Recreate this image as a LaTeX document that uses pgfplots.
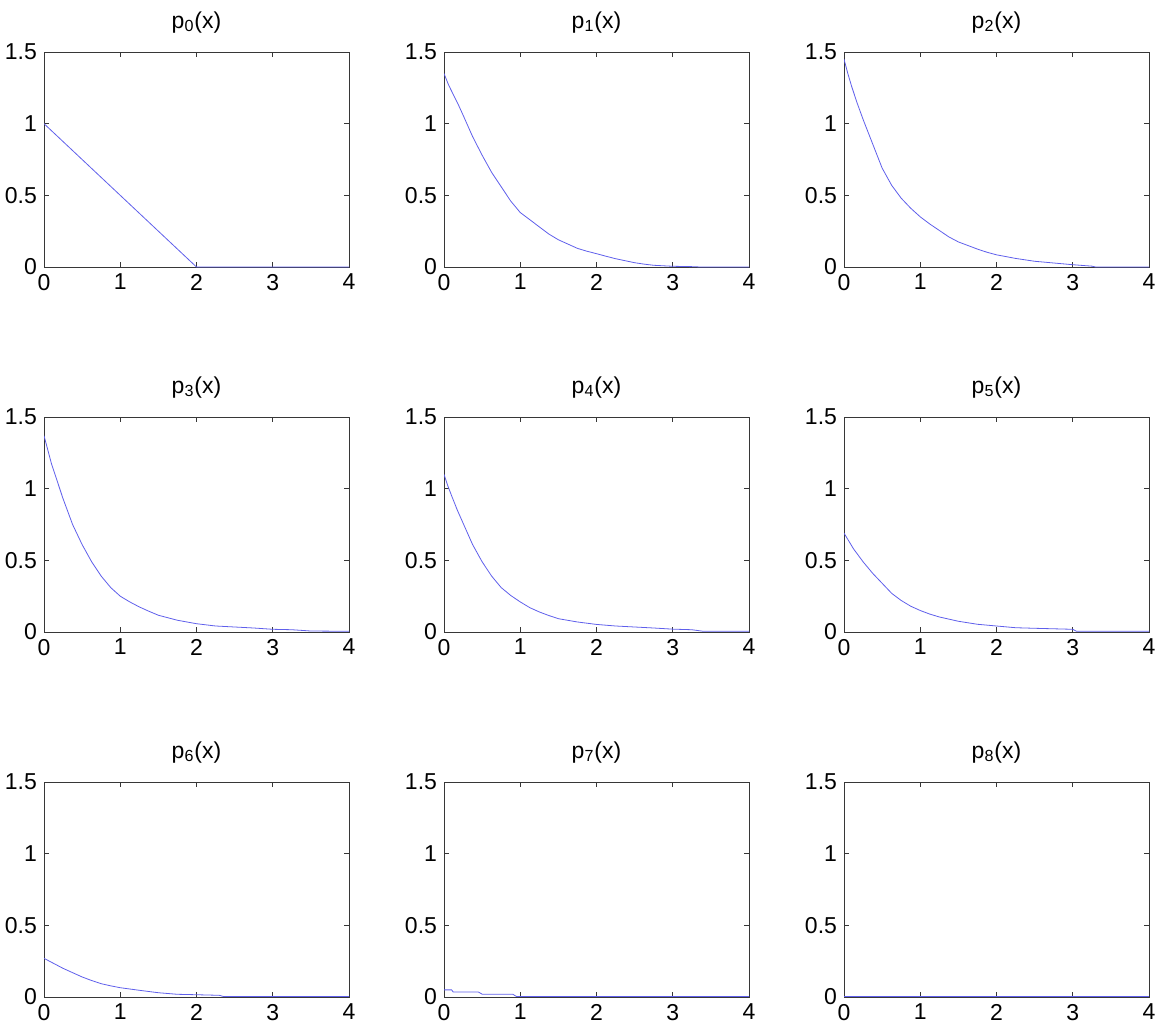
\documentclass[border=0pt]{standalone}
\usepackage{fontspec}
\setmainfont{Liberation Sans}
\usepackage{pgfplots}
\pgfplotsset{compat=1.18}
\usepgfplotslibrary{groupplots}
\usetikzlibrary{calc}
\definecolor{mblue}{RGB}{95,95,235}
\definecolor{frame}{RGB}{55,55,55}

\pgfplotsset{
  mplot/.style={
    scale only axis,
    width=152.5pt, height=107.5pt,
    xmin=0, xmax=4, ymin=0, ymax=1.5,
    xtick={0,1,2,3,4},
    ytick={0,0.5,1,1.5},
    yticklabels={0,0.5,1,1.5},
    tick align=inside,
    major tick length=2.5pt,
    axis line style={frame, line width=0.5pt},
    tick style={frame, line width=0.5pt},
    /pgf/number format/assume math mode=true,
    tick label style={font=\fontsize{11.5}{13}\selectfont},
    title style={font=\fontsize{11.5}{13}\selectfont, at={(0.5,1)}, anchor=south, yshift=0pt},
    cycle list={{mblue, line width=0.8pt, mark=none}},
  }
}

\begin{document}
\begin{tikzpicture}
\begin{groupplot}[
  group style={group size=3 by 3, horizontal sep=47.5pt, vertical sep=75pt},
  mplot
]
\nextgroupplot[title={p\textsubscript{0}(x)}]
\addplot coordinates {(0,1) (2,0) (4,0)};

\nextgroupplot[title={p\textsubscript{1}(x)}]
\addplot coordinates {(0,1.35) (0.06,1.27) (0.125,1.2) (0.19,1.13) (0.25,1.06) (0.375,0.91) (0.5,0.78) (0.625,0.66) (0.75,0.56) (0.875,0.46) (1,0.38) (1.125,0.33) (1.25,0.28) (1.375,0.23) (1.5,0.19) (1.625,0.16) (1.75,0.13) (1.875,0.11) (2,0.093) (2.125,0.075) (2.25,0.058) (2.375,0.044) (2.5,0.03) (2.625,0.02) (2.75,0.012) (3,0.005) (3.3,0.002) (3.35,0) (4,0)};

\nextgroupplot[title={p\textsubscript{2}(x)}]
\addplot coordinates {(0,1.45) (0.05,1.35) (0.1,1.26) (0.175,1.14) (0.25,1.03) (0.375,0.86) (0.5,0.69) (0.625,0.57) (0.75,0.48) (0.875,0.41) (1,0.35) (1.125,0.3) (1.25,0.255) (1.375,0.21) (1.5,0.175) (1.625,0.15) (1.75,0.125) (1.875,0.103) (2,0.085) (2.25,0.06) (2.5,0.04) (2.75,0.028) (3,0.016) (3.25,0.006) (3.3,0) (4,0)};

\nextgroupplot[title={p\textsubscript{3}(x)}]
\addplot coordinates {(0,1.37) (0.05,1.27) (0.1,1.17) (0.175,1.05) (0.25,0.93) (0.375,0.75) (0.5,0.61) (0.625,0.49) (0.75,0.39) (0.875,0.31) (1,0.25) (1.125,0.21) (1.25,0.175) (1.375,0.145) (1.5,0.117) (1.75,0.082) (2,0.058) (2.25,0.042) (2.5,0.035) (2.75,0.028) (3,0.019) (3.25,0.016) (3.5,0.007) (4,0.005)};

\nextgroupplot[title={p\textsubscript{4}(x)}]
\addplot coordinates {(0,1.1) (0.05,1.02) (0.1,0.95) (0.175,0.85) (0.25,0.76) (0.375,0.61) (0.5,0.49) (0.625,0.39) (0.75,0.31) (0.875,0.255) (1,0.21) (1.125,0.17) (1.25,0.14) (1.375,0.115) (1.5,0.093) (1.75,0.07) (2,0.053) (2.25,0.042) (2.5,0.035) (2.75,0.028) (3,0.02) (3.25,0.016) (3.4,0.005) (4,0.005)};

\nextgroupplot[title={p\textsubscript{5}(x)}]
\addplot coordinates {(0,0.69) (0.125,0.58) (0.25,0.49) (0.375,0.41) (0.5,0.34) (0.625,0.27) (0.75,0.22) (0.875,0.18) (1,0.15) (1.125,0.125) (1.25,0.105) (1.5,0.075) (1.75,0.054) (2,0.042) (2.25,0.03) (2.5,0.026) (3,0.019) (3.05,0.005) (4,0.005)};

\nextgroupplot[title={p\textsubscript{6}(x)}]
\addplot coordinates {(0,0.27) (0.125,0.235) (0.25,0.2) (0.375,0.17) (0.5,0.14) (0.625,0.115) (0.75,0.093) (0.875,0.078) (1,0.065) (1.25,0.047) (1.5,0.03) (1.75,0.019) (2,0.016) (2.3,0.012) (2.35,0.004) (4,0.004)};

\nextgroupplot[title={p\textsubscript{7}(x)}]
\addplot coordinates {(0,0.05) (0.1,0.05) (0.12,0.035) (0.45,0.035) (0.5,0.02) (0.9,0.02) (0.95,0.004) (4,0.004)};

\nextgroupplot[title={p\textsubscript{8}(x)}]
\addplot coordinates {(0,0.005) (4,0.005)};
\end{groupplot}
\pgfresetboundingbox
\path[use as bounding box] ($(group c1r1.north west)+(-22pt,26pt)$) rectangle ($(group c3r3.south east)+(6pt,-15pt)$);
\end{tikzpicture}
\end{document}
